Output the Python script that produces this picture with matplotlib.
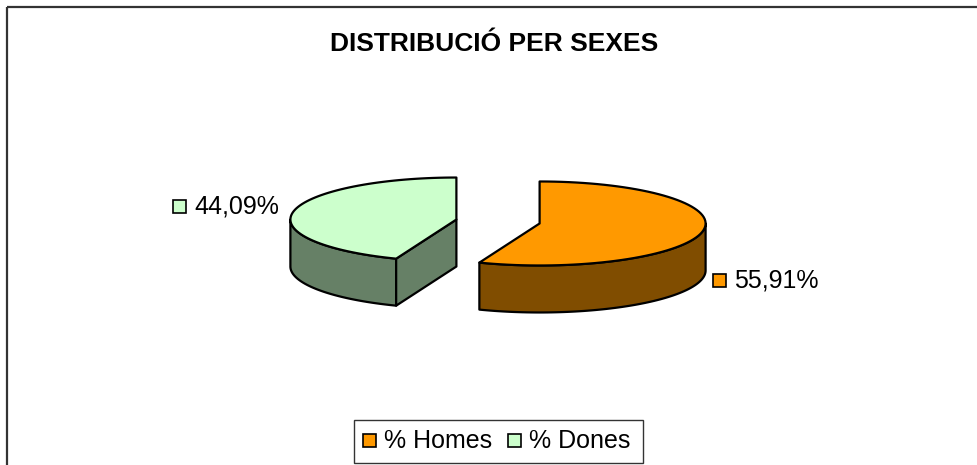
import numpy as np
import matplotlib
matplotlib.use("Agg")
import matplotlib.pyplot as plt
from matplotlib.patches import Polygon, Rectangle

plt.rcParams['font.family'] = ['Liberation Sans', 'DejaVu Sans']

# data
labels = ['% Homes', '% Dones']
values = [55.91, 44.09]
top_colors = ['#FF9900', '#CCFFCC']
side_colors = ['#804D00', '#668066']
value_text = ['55,91%', '44,09%']

# 3d pie layout (pixel space)
cx0, cy0 = 498, 221.5
R, r, depth = 166, 42, 47
explode = 0.255

fig = plt.figure(figsize=(9.78, 4.65), dpi=100)
ax = fig.add_axes([0, 0, 1, 1])
ax.set_xlim(0, 978)
ax.set_ylim(465, 0)
ax.axis('off')

# outer chart frame (clipped at right/bottom like the original)
ax.add_patch(Rectangle((6.5, 7.5), 1000, 500, fill=False, ec='#333333', lw=1.6))

ax.text(494, 44, 'DISTRIBUCIÓ PER SEXES', ha='center', va='center',
        fontsize=19, fontweight='bold')


def pt(cx, cy, th, dz=0):
    th = np.radians(th)
    return cx + R * np.sin(th), cy - r * np.cos(th) + dz


def arc(cx, cy, a, b, dz=0, n=80):
    th = np.linspace(a, b, n)
    return [pt(cx, cy, t, dz) for t in th]


fr = np.array(values) / sum(values)
starts = np.concatenate([[0], np.cumsum(fr)[:-1]]) * 360
ends = starts + fr * 360
edge = dict(ec='black', lw=1.6, joinstyle='round')

# draw left slice first so the right one sits on top
for i in [1, 0]:
    a, b = starts[i], ends[i]
    mid = np.radians((a + b) / 2)
    cx = cx0 + explode * R * np.sin(mid)
    cy = cy0 - explode * r * np.cos(mid)
    z = 2 * i
    # curved front side
    lo, hi = max(a, 90), min(b, 270)
    if hi > lo:
        poly = arc(cx, cy, lo, hi) + arc(cx, cy, hi, lo, depth)
        ax.add_patch(Polygon(poly, closed=True, fc=side_colors[i], zorder=z, **edge))
    # visible cut face at the start angle
    if 90 < a < 270 and i == 1:
        p = pt(cx, cy, a)
        pb = pt(cx, cy, a, depth)
        poly = [(cx, cy), p, pb, (cx, cy + depth)]
        ax.add_patch(Polygon(poly, closed=True, fc=side_colors[i], zorder=z, **edge))
    # top
    poly = [(cx, cy)] + arc(cx, cy, a, b)
    ax.add_patch(Polygon(poly, closed=True, fc=top_colors[i], zorder=z + 1, **edge))

# value labels
lab_pos = [(713, 280), (173, 206.5)]
for i, (x, y) in enumerate(lab_pos):
    ax.add_patch(Rectangle((x, y - 6.5), 13, 13, fc=top_colors[i], ec='black', lw=1.2, zorder=5))
    ax.text(x + 21, y, value_text[i], ha='left', va='center', fontsize=18, zorder=5)

# legend
ax.add_patch(Rectangle((353.5, 419.5), 289, 43.5, fill=False, ec='#333333', lw=1, zorder=5))
leg_x = [363, 508]
for i, x in enumerate(leg_x):
    ax.add_patch(Rectangle((x, 434), 13, 13, fc=top_colors[i], ec='black', lw=1.2, zorder=5))
    ax.text(x + 21, 440.5, labels[i], ha='left', va='center', fontsize=18, zorder=5)

fig.savefig('out.png', dpi=100)
